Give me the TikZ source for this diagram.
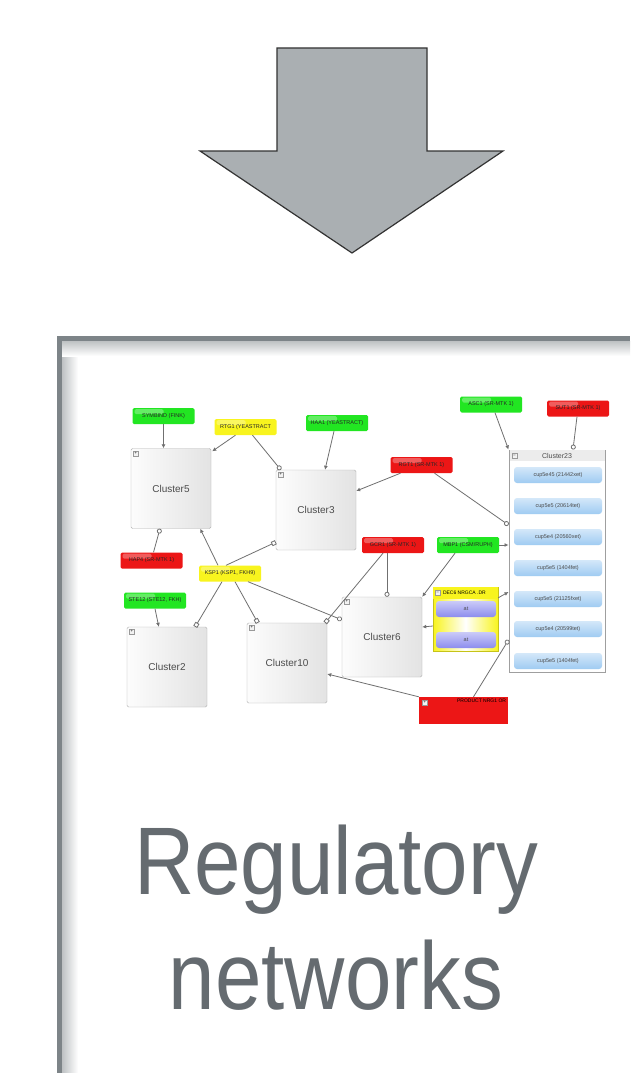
\documentclass[tikz,border=0pt]{standalone}
\usepackage{fontspec}
\setmainfont{Liberation Sans}
\usetikzlibrary{arrows.meta, calc}

\definecolor{RNgray}{HTML}{656B70}
\definecolor{RNframe}{HTML}{7D8488}
\definecolor{RNarrow}{HTML}{AAAFB2}
\definecolor{RNgreen}{HTML}{22E622}
\definecolor{RNred}{HTML}{EC1616}
\definecolor{RNyellow}{HTML}{F8F41E}
\definecolor{RNblue}{HTML}{9FCBF2}
\definecolor{RNpurple}{HTML}{8C8CEE}
\definecolor{RNlink}{HTML}{707070}

\tikzset{
  tag/.style={rectangle, rounded corners=1.5pt, inner sep=0pt,
    minimum width=62pt, minimum height=16pt, text=black!85,
    font=\fontsize{5.5}{6}\selectfont,
    path picture={\fill[white, opacity=0.3]
      ([xshift=2pt, yshift=-1pt]path picture bounding box.north west)
      rectangle ([yshift=-6pt]path picture bounding box.north);}},
  greentag/.style={tag, fill=RNgreen},
  redtag/.style={tag, fill=RNred},
  yellowtag/.style={tag, fill=RNyellow},
  cluster/.style={draw=gray!60, rounded corners=1.5pt, inner sep=0pt,
    minimum width=80pt, minimum height=80pt, left color=gray!2,
    right color=gray!22, text=black!70, font=\fontsize{10}{10}\selectfont},
  pmbox/.style={draw=gray!80, fill=gray!10, minimum size=5pt, inner sep=0pt,
    font=\fontsize{4}{4}\selectfont},
  gene/.style={rounded corners=3pt, minimum width=88pt, minimum height=16pt,
    inner sep=0pt, top color=RNblue!45, bottom color=RNblue, text=black!70,
    font=\fontsize{5.5}{6}\selectfont},
  member/.style={rounded corners=3pt, minimum width=60pt, minimum height=16pt,
    inner sep=0pt, top color=RNpurple!45, bottom color=RNpurple, text=black!70,
    font=\fontsize{5.5}{6}\selectfont},
  link/.style={draw=RNlink, line width=0.8pt},
  act/.style={link, -{Latex[length=4pt, width=4pt]}},
  circ/.style={link, -{Circle[open, length=5pt, fill=white]}},
  sq/.style={link, -{Square[open, length=4.5pt, fill=white]}},
  bigtext/.style={text=RNgray, font=\fontsize{96}{115}\selectfont,
    inner sep=0pt, xscale=0.87},
}

\begin{document}
\begin{tikzpicture}[x=1pt, y=-1pt]
  \useasboundingbox (0,0) rectangle (630,1073);
  \fill[white] (0,0) rectangle (630,1073);

  % block arrow
  \filldraw[fill=RNarrow, draw=black!80, line width=1.2pt, line join=miter]
    (277,48) -- (427,48) -- (427,151) -- (503,151) -- (352,253)
    -- (200,151) -- (277,151) -- cycle;

  % panel frame with inner shadow
  \shade[left color=RNframe!50, right color=white] (62,341) rectangle (78,1073);
  \shade[top color=RNframe!50, bottom color=white] (62,341) rectangle (630,356);
  \draw[RNframe, line width=5pt] (59.5,1073) -- (59.5,338.5) -- (630,338.5);

  % clusters
  \node[cluster] (c5) at (171,488.5) {Cluster5};
  \node[cluster] (c3) at (316,510) {Cluster3};
  \node[cluster] (c2) at (167,667) {Cluster2};
  \node[cluster] (c10) at (287,663) {Cluster10};
  \node[cluster] (c6) at (382,637) {Cluster6};
  \foreach \c in {c5,c3,c2,c10,c6}
    \node[pmbox] (\c pm) at ($(\c.north west)+(5,5)$) {+};

  % Cluster23 with its genes
  \node[draw=gray!75, fill=white, line width=1pt, minimum width=96pt,
    minimum height=222pt, inner sep=0pt] (c23) at (557,561) {};
  \node[fill=gray!15, minimum width=95pt, minimum height=11pt, inner sep=0pt,
    anchor=north, text=black!70, font=\fontsize{7}{7}\selectfont]
    (c23head) at ($(c23.north)+(0,0.5)$) {Cluster23};
  \node[pmbox] (c23pm) at ($(c23.north west)+(6,6)$) {--};
  \node[gene] (g1) at (558,475) {cup5e45 (21442xet)};
  \node[gene] (g2) at (558,506) {cup5e5 (20614tet)};
  \node[gene] (g3) at (558,537) {cup5e4 (20560xet)};
  \node[gene] (g4) at (558,568) {cup5e5 (1404fet)};
  \node[gene] (g5) at (558,599) {cup5e5 (21125fxet)};
  \node[gene] (g6) at (558,629) {cup5e4 (20599tet)};
  \node[gene] (g7) at (558,661) {cup5e5 (1404fet)};

  % yellow group
  \node[draw=RNyellow!80!black, line width=0.4pt, left color=RNyellow,
    right color=RNyellow, middle color=white, minimum width=65pt,
    minimum height=64pt, inner sep=0pt] (grp) at (465.5,619) {};
  \fill[RNyellow] (grp.north west) rectangle ($(grp.north east)+(0,12)$);
  \node[pmbox] (grppm) at ($(grp.north west)+(5,6)$) {--};
  \node[anchor=west, inner sep=0pt, font=\fontsize{5}{5}\selectfont]
    (grphead) at ($(grp.north west)+(10,6)$) {DEC6 NRGCA .DR};
  \node[member] (m1) at (466,609) {at};
  \node[member] (m2) at (466,640) {at};

  % regulator tags
  \node[greentag] (gSym) at (163.5,416) {SYMBIND (FINK)};
  \node[yellowtag] (yRtg) at (245.5,427) {RTG1 (YEASTRACT};
  \node[greentag] (gHaa) at (337,423) {HAA1 (YEASTRACT)};
  \node[greentag] (gAsc) at (491,404.5) {ASC1 (SR-MTK 1)};
  \node[redtag] (rTop) at (578,408.5) {SUT1 (SR-MTK 1)};
  \node[redtag] (rMid) at (421.5,465) {RGT1 (SR-MTK 1)};
  \node[redtag] (rLeft) at (151.5,560.5) {HAP4 (SR-MTK 1)};
  \node[yellowtag] (yKsp) at (230,573.5) {KSP1 (KSP1, FKH9)};
  \node[greentag] (gSte) at (155,600.5) {STE12 (STE12, FKH)};
  \node[redtag] (rLow) at (393,545) {GCR1 (SR-MTK 1)};
  \node[greentag] (gMbp) at (468,545) {MBP1 (CSM/RUPH)};
  \node[fill=RNred, minimum width=89pt, minimum height=27pt, inner sep=0pt]
    (rBig) at (463.5,710.5) {};
  \node[pmbox] (rBigpm) at ($(rBig.north west)+(6,6)$) {+};
  \node[anchor=north east, inner sep=2pt, font=\fontsize{5}{5}\selectfont]
    (rBigtxt) at (rBig.north east) {PRODUCT NRG1 OR};

  % links
  \draw[act] (gSym.south) -- (gSym.south |- c5.north);
  \draw[act] ($(yRtg.south)+(-10,0)$) -- ($(c5.north east)+(1,3)$);
  \draw[circ] ($(yRtg.south)+(7,0)$) -- ($(c3.north west)+(5,0)$);
  \draw[circ] ($(rLeft.north)+(2,0)$) -- ($(c5.south)+(-11,0)$);
  \draw[act] ($(yKsp.north)+(-12,0)$) -- ($(c5.south east)+(-11,0)$);
  \draw[sq] ($(yKsp.north)+(-4,0)$) -- ($(c3.south west)+(0,-8)$);
  \draw[sq] ($(yKsp.south)+(-8,0)$) -- ($(c2.north east)+(-12,0)$);
  \draw[sq] ($(yKsp.south)+(5,0)$) -- ($(c10.north west)+(11,0)$);
  \draw[circ] ($(yKsp.south)+(18,0)$) -- ($(c6.north west)+(0,23)$);
  \draw[act] (gSte.south) -- ($(c2.north west)+(32,0)$);
  \draw[sq] ($(rLow.south)+(-10,0)$) -- ($(c10.north east)+(-2,0)$);
  \draw[circ] ($(rLow.south)+(-6,0)$) -- ($(c6.north)+(5,0)$);
  \draw[act] ($(gMbp.south)+(-13,0)$) -- (c6.north east);
  \draw[act] (gMbp.east) -- (gMbp.east -| c23.west);
  \draw[act] ($(gHaa.south)+(-3,0)$) -- ($(c3.north)+(9,0)$);
  \draw[act] ($(rMid.south)+(-21,0)$) -- ($(c3.east)+(0,-19)$);
  \draw[circ] ($(rMid.south)+(13,0)$) -- ($(c23.west)+(0,-36)$);
  \draw[act] ($(gAsc.south)+(4,0)$) -- (c23.north west);
  \draw[circ] ($(rTop.south)+(-1,0)$) -- ($(c23.north)+(16,0)$);
  \draw[act] ($(grp.north east)+(0,11)$) -- ($(c23.west)+(0,31)$);
  \draw[act] ($(grp.west)+(0,7)$) -- ($(c6.east)+(0,-10)$);
  \draw[circ] ($(rBig.north)+(10,0)$) -- ($(c23.west)+(0,79)$);
  \draw[act] (rBig.north west) -- ($(c10.east)+(0,11)$);

  % caption
  \node[bigtext, anchor=base] (capA) at (336,894) {Regulatory};
  \node[bigtext, anchor=base] (capB) at (336,1009) {networks};
\end{tikzpicture}
\end{document}
